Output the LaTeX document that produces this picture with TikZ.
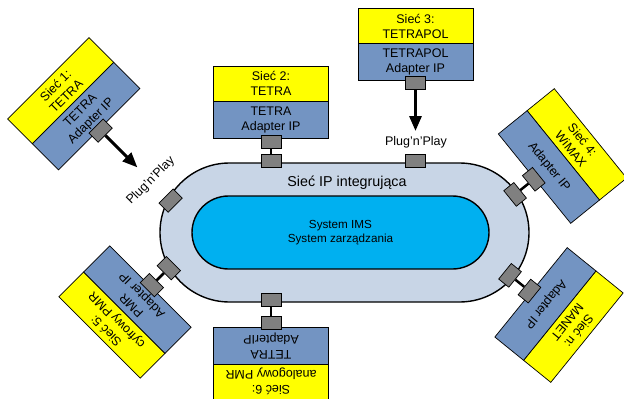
\documentclass[tikz,border=0pt]{standalone}
\usepackage{fontspec}
\setmainfont{Liberation Sans}
\usetikzlibrary{arrows.meta}

\definecolor{netyellow}{HTML}{FFFF00}
\definecolor{netblue}{HTML}{7394C2}
\definecolor{trackfill}{HTML}{C8D5E6}
\definecolor{coreblue}{HTML}{00B0F0}
\definecolor{portgray}{HTML}{808080}

\tikzset{
  netcell/.style={draw, line width=0.7pt, inner sep=0pt, minimum width=115pt,
    align=center, font=\fontsize{12.5}{15}\selectfont},
  port/.style={draw, line width=0.7pt, fill=portgray, inner sep=0pt,
    minimum width=20pt, minimum height=13pt},
  link/.style={line width=2.5pt},
  feed/.style={line width=3pt, -{Triangle[length=15pt,width=12pt]}},
  plugtext/.style={font=\fontsize{12.5}{15}\selectfont, inner sep=0pt},
}

% one network box: #1 id, #2 centre, #3 angle, #4 network name,
% #5 adapter name, #6 adapter offset, #7 offset of the port on the ring
\newcommand\netbox[7]{%
  \begin{scope}[shift={#2}, rotate=#3, transform shape]
    \node[netcell, fill=netyellow, minimum height=35pt] (y#1) at (0,-18.5) {#4};
    \node[netcell, fill=netblue, minimum height=37pt] (b#1) at (0,17.5) {#5};
    \node[port] (a#1) at (0,#6) {};
    \node[port] (t#1) at (0,#7) {};
  \end{scope}}

\begin{document}
\begin{tikzpicture}[x=1pt, y=-1pt]
  \useasboundingbox (0,0) rectangle (624,399);

  % integrating IP ring and the core systems
  \node[draw, line width=1.4pt, fill=trackfill, rectangle, rounded corners=69.5pt,
        minimum width=369pt, minimum height=139pt, inner sep=0pt] (ring) at (344.5,232.5) {};
  \node[draw, line width=1.4pt, fill=coreblue, rectangle, rounded corners=36.5pt,
        minimum width=297pt, minimum height=73pt, inner sep=0pt, align=center,
        font=\fontsize{11.7}{14.5}\selectfont] (core) at (340.5,232.5)
        {System IMS\\System zarządzania};
  \node[font=\fontsize{14.3}{16}\selectfont, inner sep=0pt] (ringlabel) at (347,183)
        {Sieć IP integrująca};

  % networks with their IP adapters
  \netbox{1}{(73.75,103.75)}{45}{Sieć 1:\\TETRA}{TETRA\\Adapter IP}{38}{137}
  \netbox{2}{(271,102)}{0}{Sieć 2:\\TETRA}{TETRA\\Adapter IP}{39.5}{58.5}
  \netbox{3}{(415.5,44.5)}{0}{Sieć 3:\\TETRAPOL}{TETRAPOL\\Adapter IP}{38.5}{116}
  \netbox{4}{(562.5,156)}{-51}{Sieć 4:\\WiMAX}{Adapter IP}{37}{61}
  \netbox{5}{(125,312)}{135}{Sieć 5:\\cyfrowy PMR}{PMR\\Adapter IP}{38}{62}
  \netbox{6}{(271,363)}{180}{Sieć 6:\\analogowy PMR}{TETRA\\AdapterIP}{40.5}{63}
  \netbox{7}{(559,315)}{-129}{Sieć n:\\MANET}{Adapter IP}{38}{63}

  % plug'n'play attachments
  \begin{scope}[shift={(73.75,103.75)}, rotate=45, transform shape]
    \coordinate (tip1) at (0,90);
    \node[plugtext] (plug1) at (0,109) {Plug’n’Play};
  \end{scope}
  \coordinate (tip3) at (415.5,131);
  \node[plugtext] (plug3) at (416,142) {Plug’n’Play};

  \draw[feed] (a1) -- (tip1);
  \draw[feed] (a3) -- (tip3);

  % fixed links to the ring
  \draw[link] (a2) -- (t2);
  \draw[link] (a4) -- (t4);
  \draw[link] (a5) -- (t5);
  \draw[link] (a6) -- (t6);
  \draw[link] (a7) -- (t7);
\end{tikzpicture}
\end{document}
